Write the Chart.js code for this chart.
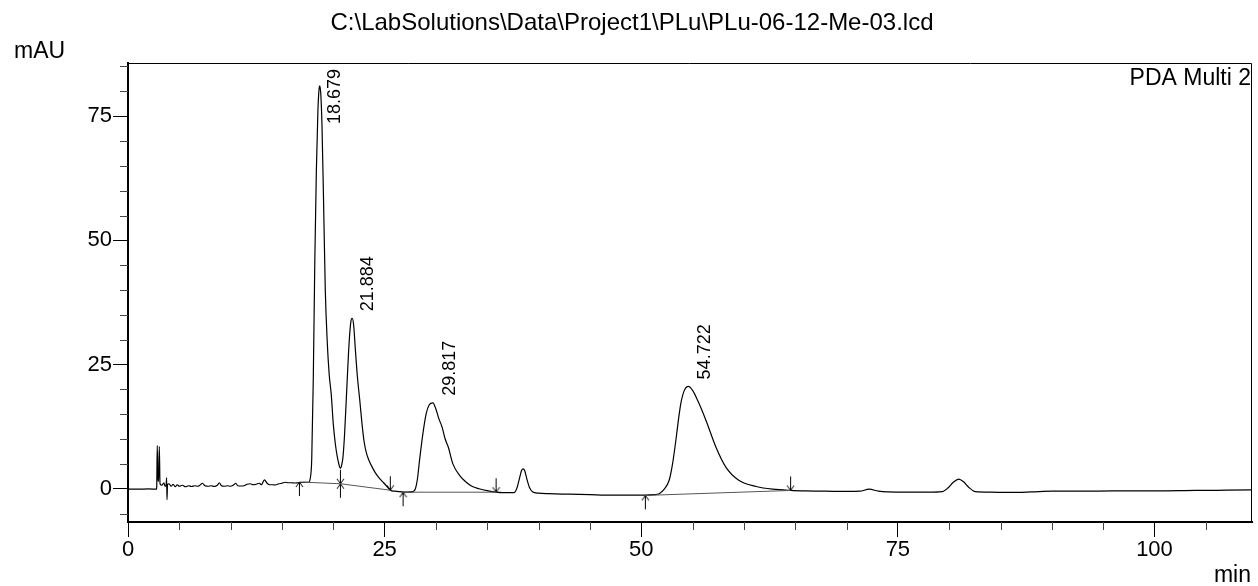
<!DOCTYPE html>
<html>
<head>
<meta charset="utf-8">
<script src="https://cdn.jsdelivr.net/npm/chart.js@4.4.1/dist/chart.umd.min.js"></script>
<style>
  html, body { margin: 0; padding: 0; background: #fff; }
  canvas { display: block; }
</style>
</head>
<body>
<canvas id="chromatogram" width="1258" height="586"></canvas>
<script>
// detector trace (min, mAU)
const traceTime = [
  0, 1, 2, 2.78, 2.8, 2.85, 2.92, 2.98, 3.05, 3.12, 3.3, 3.5, 3.6, 3.72, 3.76, 3.8, 3.85,
  4.0, 4.2, 4.4, 4.6, 4.8, 5.0, 5.3, 5.6, 5.9, 6.2, 6.5, 6.8, 7.0, 7.25, 7.5, 7.8, 8.1, 8.4, 8.7,
  8.9, 9.1, 9.4, 9.7, 10.0, 10.3, 10.5, 10.7, 11.0, 11.3, 11.6, 11.9, 12.2, 12.5, 12.8, 13.0,
  13.29, 13.55, 13.8, 14.1, 14.35, 14.7, 15.0, 15.3, 15.6, 15.9, 16.2, 16.6, 17.0, 17.3, 17.6,
  17.75, 17.9, 18.05, 18.2, 18.35, 18.5, 18.62, 18.68, 18.78, 18.9, 19.05, 19.22, 19.4, 19.6,
  19.8, 20.0, 20.2, 20.4, 20.6, 20.69, 20.8, 20.95, 21.1, 21.3, 21.5, 21.7, 21.84, 21.98, 22.15,
  22.35, 22.57, 22.8, 23.0, 23.25, 23.5, 23.8, 24.1, 24.5, 24.9, 25.3, 25.55, 26.0, 26.5, 27.2,
  27.75, 28.0, 28.2, 28.4, 28.73, 29.05, 29.35, 29.7, 30.0, 30.3, 30.6, 30.9, 31.2, 31.65, 32.3,
  32.95, 33.5, 34.2, 35.0, 35.86, 36.5, 37.6, 37.9, 38.15, 38.35, 38.5, 38.65, 38.85, 39.1, 39.4,
  40, 41, 43, 45, 47, 49, 50.4, 51.2, 51.75, 52.2, 52.72, 53.05, 53.37, 53.6, 53.85, 54.2, 54.6,
  55.0, 55.49, 56.3, 57.27, 58.24, 59.5, 61.2, 62.8, 64.55, 66, 68, 70, 71.3, 72.2, 73.1, 74,
  76, 78, 79.3, 79.9, 80.4, 80.93, 81.4, 81.9, 82.55, 84, 86, 88, 90, 93, 96, 100, 104, 107, 109.5
];
const traceMAU = [
  -0.1, -0.1, -0.05, -0.1, 0.5, 8.7, 1.5, 1.5, 8.5, 1.0, 0.7, 1.2, 0.5, 0.8, 2.2, -2.2, 0.8,
  1.0, 0.5, 0.9, 0.4, 0.8, 0.5, 0.7, 0.4, 0.6, 0.45, 0.6, 0.5, 0.7, 1.1, 0.6, 0.5, 0.6, 0.45, 0.7,
  1.2, 0.6, 0.5, 0.6, 0.5, 0.8, 1.1, 0.6, 0.55, 0.6, 0.9, 1.0, 0.8, 0.9, 1.1, 0.8,
  1.8, 1.1, 0.8, 0.8, 0.75, 1.0, 1.1, 1.3, 1.2, 1.2, 1.15, 1.2, 1.25, 1.3, 1.3,
  2.0, 6, 22, 46, 64, 76, 80.6, 81.1, 79.5, 73, 58, 40, 30, 23,
  19, 13, 9, 6.3, 4.5, 4.1, 4.6, 6.5, 11, 19.5, 28, 33.5, 34.3, 33, 28,
  22.5, 18, 13, 9.5, 7, 5.6, 4.3, 3.2, 2.1, 1.2, 0.3, -0.3, -0.5, -0.6, -0.7,
  -0.6, 0.0, 2.0, 5.7, 11.1, 15.1, 16.9, 17.3, 16.0, 14.0, 12.4, 10.0, 8.4, 5.0, 2.7,
  1.3, 0.5, 0.0, -0.4, -0.7, -0.8, -0.8, 0.2, 2.2, 3.7, 4.0, 3.6, 2.0, 0.3, -0.6,
  -0.9, -1.0, -1.1, -1.2, -1.3, -1.3, -1.3, -1.2, -1.0, -0.2, 1.7, 5, 9.7, 13.5, 17.1, 19.8, 20.6,
  19.8, 17.8, 13.8, 8.4, 4.35, 1.7, 0.45, -0.1, -0.35, -0.45, -0.5, -0.55, -0.5, -0.1, -0.5, -0.65,
  -0.7, -0.7, -0.6, 0.2, 1.3, 1.95, 1.4, 0.3, -0.6, -0.7, -0.75, -0.65, -0.5, -0.5, -0.45, -0.45, -0.35, -0.3, -0.25
];

// integrated peaks: retention time label and apex height
const peakTimes = [18.679, 21.884, 29.817, 54.722];
const peakHeights = [81.1, 34.3, 17.3, 20.6];

// integration marks
const startMarkTimes = [16.7, 20.69, 26.8, 50.4];
const startMarkValues = [1.35, 1.0, -0.7, -1.35];
const endMarkTimes = [20.69, 25.55, 35.86, 64.55];
const endMarkValues = [1.0, -0.3, -0.7, -0.35];

// drawn integration baselines (null breaks the line)
const baseTimes = [16.7, 20.69, 25.55, 26, 26.8, 35.86, 40, 50.4, 64.55];
const baseValues = [1.35, 1.0, -0.3, null, -0.7, -0.7, null, -1.35, -0.35];

const xMajorTicks = [0, 25, 50, 75, 100];
const yMajorTicks = [0, 25, 50, 75];
const xMin = 0, xMax = 109.5;
const yMin = -6.7, yMax = 85.7;

const xMinorTicks = [];
for (let v = 5; v < xMax; v += 5) if (v % 25 !== 0) xMinorTicks.push(v);
const yMinorTicks = [];
for (let v = -5; v < yMax; v += 5) if (v % 25 !== 0) yMinorTicks.push(v);

const FONT = '"Liberation Sans", Arial, sans-serif';

function arrowCanvas(up) {
  const c = document.createElement('canvas');
  c.width = 9; c.height = 30;
  const g = c.getContext('2d');
  g.strokeStyle = '#000';
  g.lineWidth = 1;
  g.beginPath();
  if (up) {
    g.moveTo(4.5, 15); g.lineTo(4.5, 29);
    g.moveTo(1, 20); g.lineTo(4.5, 15); g.lineTo(8, 20);
  } else {
    g.moveTo(4.5, 1); g.lineTo(4.5, 15);
    g.moveTo(1, 10); g.lineTo(4.5, 15); g.lineTo(8, 10);
  }
  g.stroke();
  return c;
}

const decorations = {
  id: 'decorations',
  afterDraw(chart) {
    const { ctx, chartArea: a, scales: { x, y } } = chart;
    ctx.save();

    // frame top and right
    ctx.strokeStyle = '#000';
    ctx.lineWidth = 1;
    ctx.beginPath();
    ctx.moveTo(a.left, a.top + 0.5);
    ctx.lineTo(a.right - 0.5, a.top + 0.5);
    ctx.lineTo(a.right - 0.5, a.bottom);
    ctx.stroke();

    // minor ticks
    ctx.strokeStyle = '#444';
    ctx.beginPath();
    xMinorTicks.forEach(v => {
      const px = Math.round(x.getPixelForValue(v)) + 0.5;
      ctx.moveTo(px, a.bottom);
      ctx.lineTo(px, a.bottom + 8);
    });
    yMinorTicks.forEach(v => {
      const py = Math.round(y.getPixelForValue(v)) + 0.5;
      ctx.moveTo(a.left, py);
      ctx.lineTo(a.left - 8, py);
    });
    ctx.stroke();

    ctx.fillStyle = '#000';
    ctx.textBaseline = 'alphabetic';

    ctx.font = '24px ' + FONT;
    ctx.textAlign = 'center';
    ctx.fillText('C:\\LabSolutions\\Data\\Project1\\PLu\\PLu-06-12-Me-03.lcd', 632, 30);

    ctx.font = '23px ' + FONT;
    ctx.textAlign = 'left';
    ctx.fillText('mAU', 14, 58);

    ctx.textAlign = 'right';
    ctx.fillText('PDA Multi 2', a.right - 1, 85);
    ctx.fillText('min', a.right - 1, 582);

    // retention time labels, rotated
    ctx.font = '18px ' + FONT;
    ctx.textAlign = 'left';
    ctx.textBaseline = 'middle';
    peakTimes.forEach((t, i) => {
      const px = x.getPixelForValue(t) + 15.5;
      const label = t.toFixed(3);
      const len = ctx.measureText(label).width;
      let py = y.getPixelForValue(peakHeights[i]) - 7;
      if (py - len < a.top + 6) py = a.top + 6 + len;
      ctx.save();
      ctx.translate(px, py);
      ctx.rotate(-Math.PI / 2);
      ctx.fillText(label, 0, 0);
      ctx.restore();
    });

    ctx.restore();
  }
};

const ctx = document.getElementById('chromatogram').getContext('2d');
const chromatogram = new Chart(ctx, {
  type: 'line',
  data: {
    datasets: [
      {
        label: 'baseline',
        data: baseTimes.map((t, i) => ({ x: t, y: baseValues[i] })),
        borderColor: '#555',
        borderWidth: 1,
        pointRadius: 0,
        spanGaps: false
      },
      {
        label: 'start',
        data: startMarkTimes.map((t, i) => ({ x: t, y: startMarkValues[i] })),
        showLine: false,
        pointStyle: arrowCanvas(true),
        pointRadius: 5
      },
      {
        label: 'end',
        data: endMarkTimes.map((t, i) => ({ x: t, y: endMarkValues[i] })),
        showLine: false,
        pointStyle: arrowCanvas(false),
        pointRadius: 5
      },
      {
        label: 'PDA Multi 2',
        data: traceTime.map((t, i) => ({ x: t, y: traceMAU[i] })),
        borderColor: '#000',
        borderWidth: 1.2,
        pointRadius: 0,
        cubicInterpolationMode: 'monotone'
      }
    ]
  },
  options: {
    responsive: false,
    animation: false,
    layout: { padding: { top: 63, right: 4, bottom: 0, left: 0 } },
    plugins: {
      legend: { display: false },
      title: { display: false },
      tooltip: { enabled: false }
    },
    scales: {
      x: {
        type: 'linear',
        min: xMin,
        max: xMax,
        afterBuildTicks: s => { s.ticks = xMajorTicks.map(v => ({ value: v })); },
        afterFit: s => { s.height = 64; },
        ticks: { color: '#000', font: { family: FONT, size: 22 }, padding: 0, maxRotation: 0, autoSkip: false },
        grid: { drawOnChartArea: false, tickLength: 15, tickColor: '#000', tickWidth: 1 },
        border: { color: '#000', width: 2 }
      },
      y: {
        type: 'linear',
        min: yMin,
        max: yMax,
        afterBuildTicks: s => { s.ticks = yMajorTicks.map(v => ({ value: v })); },
        afterFit: s => { s.width = 128; },
        ticks: { color: '#000', font: { family: FONT, size: 22 }, padding: 1 },
        grid: { drawOnChartArea: false, tickLength: 15, tickColor: '#000', tickWidth: 1 },
        border: { color: '#000', width: 2 }
      }
    }
  },
  plugins: [decorations]
});
</script>
</body>
</html>
